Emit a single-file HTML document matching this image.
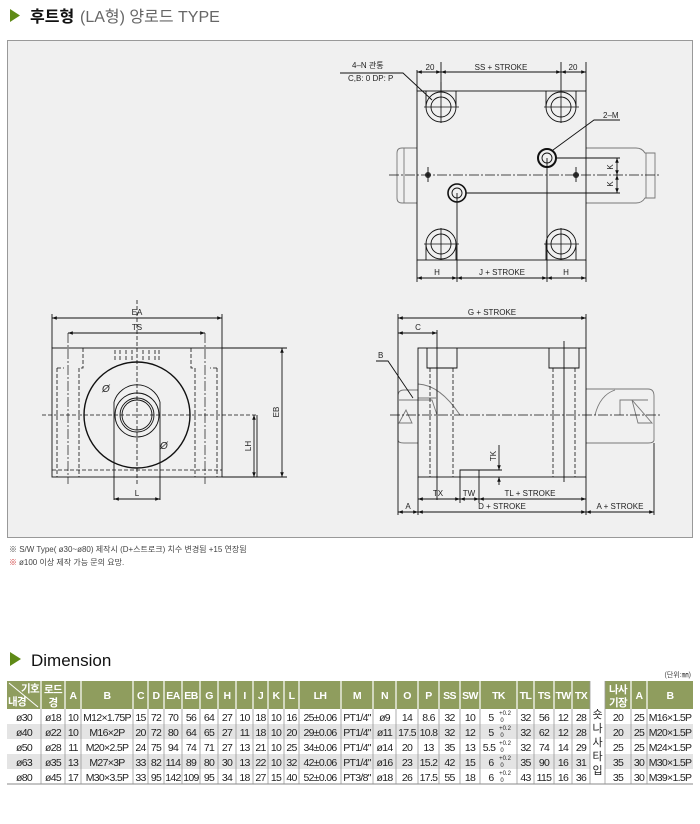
<!DOCTYPE html>
<html><head><meta charset="utf-8"><style>
html,body{margin:0;padding:0;background:#fff;}
svg{display:block;font-family:"Liberation Sans","Noto Sans CJK KR",sans-serif;}
.d{stroke:#111;stroke-width:0.9;fill:none;}
.dt{stroke:#111;stroke-width:0.8;fill:none;stroke-dasharray:4 2;}
.cl{stroke:#111;stroke-width:0.7;fill:none;stroke-dasharray:10 2 2 2;}
.g{stroke:#777;stroke-width:0.9;fill:none;}
.lb{font-size:8px;fill:#222;}
.th{font-size:10.5px;fill:#fff;font-weight:bold;text-anchor:middle;letter-spacing:-0.6px;}
.tb text{font-size:10.5px;fill:#222;text-anchor:middle;letter-spacing:-0.7px;}
</style></head><body>
<svg width="700" height="824" viewBox="0 0 700 824" xmlns="http://www.w3.org/2000/svg">
<defs>
<marker id="a" viewBox="0 0 8 6" refX="8" refY="3" markerWidth="6" markerHeight="4" orient="auto-start-reverse"><path d="M0,0L8,3L0,6z" fill="#111"/></marker>
</defs>
<!-- title -->
<path d="M10,9L20,15.5L10,22z" fill="#5f8a17"/>
<text x="30" y="22" font-size="16" font-weight="bold" fill="#111">후트형</text>
<text x="80" y="22" font-size="16" fill="#666">(LA형) 양로드 TYPE</text>

<!-- box -->
<rect x="7.5" y="40.5" width="685" height="497" fill="#f0f0f0" stroke="#999" stroke-width="1"/>

<!-- ===== TOP VIEW ===== -->
<g>
<path class="g" d="M417,148H402Q397,148 397,153V198Q397,203 402,203H417"/>
<line class="g" x1="404" y1="148" x2="404" y2="203"/>
<path class="g" d="M586,148H636Q642,148 645,153H655V198H645Q642,203 636,203H586"/>
<line class="g" x1="646" y1="153" x2="646" y2="198"/>
<rect class="d" x="417" y="91" width="169" height="169"/>
<g class="d">
<circle cx="441" cy="107" r="15"/><circle cx="441" cy="107" r="10"/>
<path d="M426,91V107M456,91V107"/>
<circle cx="561" cy="107" r="15"/><circle cx="561" cy="107" r="10"/>
<path d="M546,91V107M576,91V107"/>
<circle cx="441" cy="244" r="15"/><circle cx="441" cy="244" r="10"/>
<path d="M426,244V260M456,244V260"/>
<circle cx="561" cy="244" r="15"/><circle cx="561" cy="244" r="10"/>
<path d="M546,244V260M576,244V260"/>
</g>
<g stroke="#111" stroke-width="0.8">
<path d="M424,107H459M441,82V123M544,107H579M561,92V123M424,244H459M441,228V260M544,244H579M561,228V260"/>
</g>
<circle cx="547" cy="158" r="9" fill="none" stroke="#111" stroke-width="2"/>
<circle cx="547" cy="158" r="5" class="d"/>
<circle cx="457" cy="193" r="9" fill="none" stroke="#111" stroke-width="1.6"/>
<circle cx="457" cy="193" r="5" class="d"/>
<circle cx="428" cy="175" r="3" fill="#333"/><circle cx="576" cy="175" r="3" fill="#333"/>
<line class="cl" x1="389" y1="175" x2="660" y2="175"/>
<line class="d" x1="428" y1="167" x2="428" y2="182"/><line class="d" x1="576" y1="167" x2="576" y2="182"/>
<path class="d" d="M417,70V91M441,62V91M561,62V91M586,62V91"/>
<line class="d" x1="417" y1="72" x2="441" y2="72" marker-start="url(#a)" marker-end="url(#a)"/>
<line class="d" x1="441" y1="72" x2="561" y2="72" marker-start="url(#a)" marker-end="url(#a)"/>
<line class="d" x1="561" y1="72" x2="586" y2="72" marker-start="url(#a)" marker-end="url(#a)"/>
<text class="lb" x="430" y="70" text-anchor="middle">20</text>
<text class="lb" x="501" y="70" text-anchor="middle">SS + STROKE</text>
<text class="lb" x="573" y="70" text-anchor="middle">20</text>
<path class="d" d="M417,260V282M457,193V282M547,158V282M586,260V282"/>
<line class="d" x1="417" y1="278" x2="457" y2="278" marker-start="url(#a)" marker-end="url(#a)"/>
<line class="d" x1="457" y1="278" x2="547" y2="278" marker-start="url(#a)" marker-end="url(#a)"/>
<line class="d" x1="547" y1="278" x2="586" y2="278" marker-start="url(#a)" marker-end="url(#a)"/>
<text class="lb" x="437" y="275" text-anchor="middle">H</text>
<text class="lb" x="502" y="275" text-anchor="middle">J + STROKE</text>
<text class="lb" x="566" y="275" text-anchor="middle">H</text>
<path class="d" d="M556,158H620M466,193H620"/>
<line class="d" x1="617" y1="158" x2="617" y2="175" marker-start="url(#a)" marker-end="url(#a)"/>
<line class="d" x1="617" y1="175" x2="617" y2="193" marker-start="url(#a)" marker-end="url(#a)"/>
<text class="lb" transform="translate(613,167) rotate(-90)" text-anchor="middle">K</text>
<text class="lb" transform="translate(613,184) rotate(-90)" text-anchor="middle">K</text>
<text class="lb" x="352" y="68">4–N 관통</text>
<text class="lb" x="348" y="81">C,B: 0 DP: P</text>
<path class="d" d="M340,73H403L432,100"/>
<text class="lb" x="603" y="118">2–M</text>
<path class="d" d="M620,120H594L553,150"/>
</g>

<!-- ===== FRONT VIEW ===== -->
<g>
<rect class="d" x="52" y="348" width="170" height="129"/>
<path class="dt" d="M83,348V368H79M191,348V368H195"/>
<path class="dt" d="M57,368H64M57,368V477M79,368V477M195,368V477M217,368H210M217,368V477"/>
<line class="dt" x1="52" y1="470" x2="222" y2="470"/>
<line class="cl" x1="68" y1="333" x2="68" y2="484"/>
<line class="cl" x1="205" y1="333" x2="205" y2="484"/>
<path class="dt" d="M115,350V362M120,350V362M126,350V362M132,350V362M143,350V362M149,350V362M155,350V362M159,350V362"/>
<circle cx="137" cy="415" r="53" fill="none" stroke="#111" stroke-width="1.4"/>
<path class="d" d="M114,402A24,24 0 0 1 160,402"/>
<path class="d" d="M114,402V500M160,402V500"/>
<circle cx="137" cy="415" r="22" class="d"/>
<circle cx="137" cy="415" r="17" class="d"/><circle cx="137" cy="415" r="15" class="d"/>
<line class="dt" x1="42" y1="415" x2="257" y2="415"/>
<line class="dt" x1="137" y1="300" x2="137" y2="485"/>
<text x="102" y="392" font-size="10" fill="#222" font-style="italic">Ø</text>
<text x="160" y="449" font-size="10" fill="#222" font-style="italic">Ø</text>
<path class="d" d="M52,314V348M222,314V348M222,348H287M222,477H287M257,415V477"/>
<line class="d" x1="52" y1="318" x2="222" y2="318" marker-start="url(#a)" marker-end="url(#a)"/>
<line class="d" x1="68" y1="333" x2="205" y2="333" marker-start="url(#a)" marker-end="url(#a)"/>
<line class="d" x1="282" y1="348" x2="282" y2="477" marker-start="url(#a)" marker-end="url(#a)"/>
<line class="d" x1="254" y1="415" x2="254" y2="477" marker-start="url(#a)" marker-end="url(#a)"/>
<line class="d" x1="114" y1="499" x2="160" y2="499" marker-start="url(#a)" marker-end="url(#a)"/>
<text class="lb" x="137" y="315" text-anchor="middle">EA</text>
<text class="lb" x="137" y="330" text-anchor="middle">TS</text>
<text class="lb" x="137" y="496" text-anchor="middle">L</text>
<text class="lb" transform="translate(279,412) rotate(-90)" text-anchor="middle">EB</text>
<text class="lb" transform="translate(251,446) rotate(-90)" text-anchor="middle">LH</text>
</g>

<!-- ===== SIDE VIEW ===== -->
<g>
<path class="g" d="M418,390H404Q398,390 398,396V440Q398,443 404,443H418"/>
<path class="g" d="M399,400H432L437,415M418,398H436M406,410L399,423L412,423z"/>
<path class="g" d="M586,389H648Q654,389 654,396V440Q654,443 648,443H586"/>
<path class="g" d="M648,400H620V415M632,400L638,423L652,423z"/>
<path class="g" d="M418,384Q440,385 460,415M595,415Q600,395 615,390"/>
<rect class="d" x="418" y="348" width="168" height="129"/>
<path class="d" d="M427,348V368H457V348M549,348V368H579V348"/>
<path class="dt" d="M430,368V477M453,368V477M553,368V477M575,368V477"/>
<path class="d" d="M437,330V500M564,341V482"/>
<path class="d" d="M460,477V470H479V477"/>
<line class="cl" x1="390" y1="415" x2="662" y2="415"/>
<path class="d" d="M398,314V515M586,314V348M654,443V515M418,477V515M460,477V503M479,477V503M586,477V515M479,470H502"/>
<line class="d" x1="398" y1="318" x2="586" y2="318" marker-start="url(#a)" marker-end="url(#a)"/>
<line class="d" x1="398" y1="333" x2="437" y2="333" marker-start="url(#a)" marker-end="url(#a)"/>
<line class="d" x1="418" y1="499" x2="460" y2="499" marker-start="url(#a)" marker-end="url(#a)"/>
<line class="d" x1="460" y1="499" x2="479" y2="499" marker-start="url(#a)" marker-end="url(#a)"/>
<line class="d" x1="479" y1="499" x2="586" y2="499" marker-start="url(#a)" marker-end="url(#a)"/>
<line class="d" x1="398" y1="512" x2="418" y2="512" marker-start="url(#a)" marker-end="url(#a)"/>
<line class="d" x1="418" y1="512" x2="586" y2="512" marker-start="url(#a)" marker-end="url(#a)"/>
<line class="d" x1="586" y1="512" x2="654" y2="512" marker-start="url(#a)" marker-end="url(#a)"/>
<line class="d" x1="499" y1="445" x2="499" y2="470" marker-end="url(#a)"/>
<line class="d" x1="499" y1="485" x2="499" y2="477" marker-end="url(#a)"/>
<text class="lb" x="492" y="315" text-anchor="middle">G + STROKE</text>
<text class="lb" x="418" y="330" text-anchor="middle">C</text>
<text class="lb" x="438" y="496" text-anchor="middle">TX</text>
<text class="lb" x="469" y="496" text-anchor="middle">TW</text>
<text class="lb" x="530" y="496" text-anchor="middle">TL + STROKE</text>
<text class="lb" x="408" y="509" text-anchor="middle">A</text>
<text class="lb" x="502" y="509" text-anchor="middle">D + STROKE</text>
<text class="lb" x="620" y="509" text-anchor="middle">A + STROKE</text>
<text class="lb" transform="translate(496,456) rotate(-90)" text-anchor="middle">TK</text>
<text class="lb" x="378" y="358">B</text>
<path class="d" d="M376,361H388L413,398"/>
</g>

<!-- notes -->
<text x="9" y="552" font-size="8" fill="#444">※ S/W Type( ø30~ø80) 제작시 (D+스트로크) 치수 변경됨 +15 연장됨</text>
<text x="9" y="565" font-size="8" fill="#c33">※</text>
<text x="19" y="565" font-size="8" fill="#444">ø100 이상 제작 가능 문의 요망.</text>

<!-- Dimension heading -->
<path d="M10,652L21,659L10,666z" fill="#5f8a17"/>
<text x="31" y="666" font-size="17" fill="#111">Dimension</text>
<text x="691" y="677" font-size="7" fill="#444" text-anchor="end">(단위:㎜)</text>

<!-- table -->
<rect x="7" y="681" width="583" height="28" fill="#8f9d5e"/>
<rect x="605" y="681" width="88" height="28" fill="#8f9d5e"/>
<rect x="7" y="724" width="583" height="15" fill="#e4e4e4"/>
<rect x="605" y="724" width="88" height="15" fill="#e4e4e4"/>
<rect x="7" y="754" width="583" height="15" fill="#e4e4e4"/>
<rect x="605" y="754" width="88" height="15" fill="#e4e4e4"/>
<line x1="7" y1="784" x2="693" y2="784" stroke="#888" stroke-width="1"/>
<g stroke="#fff" stroke-width="1.2">
<path d="M41,681V709M65,681V709M81,681V709M133,681V709M148,681V709M164,681V709M182,681V709M200,681V709M218,681V709M236,681V709M253,681V709M268,681V709M284,681V709M299,681V709M341,681V709M373,681V709M396,681V709M418,681V709M439,681V709M460,681V709M480,681V709M517,681V709M534,681V709M554,681V709M572,681V709M631,681V709M647,681V709"/>
<path d="M9,683L38,707" stroke-width="1"/>
</g>
<g stroke="#999" stroke-width="0.8">
<path d="M41,709V784M65,709V784M81,709V784M133,709V784M148,709V784M164,709V784M182,709V784M200,709V784M218,709V784M236,709V784M253,709V784M268,709V784M284,709V784M299,709V784M341,709V784M373,709V784M396,709V784M418,709V784M439,709V784M460,709V784M480,709V784M517,709V784M534,709V784M554,709V784M572,709V784M590,681V784M605,681V784M631,709V784M647,709V784"/>
</g>
<text class="th" x="30" y="692" font-size="10">기호</text>
<text class="th" x="17" y="705" font-size="10">내경</text>
<text class="th" x="53" y="693">로드</text><text class="th" x="53" y="706">경</text>
<g>
<text class="th" x="73" y="699">A</text><text class="th" x="107" y="699">B</text>
<text class="th" x="140.5" y="699">C</text><text class="th" x="156" y="699">D</text>
<text class="th" x="173" y="699">EA</text><text class="th" x="191" y="699">EB</text>
<text class="th" x="209" y="699">G</text><text class="th" x="227" y="699">H</text>
<text class="th" x="244.5" y="699">I</text><text class="th" x="260.5" y="699">J</text>
<text class="th" x="276" y="699">K</text><text class="th" x="291.5" y="699">L</text>
<text class="th" x="320" y="699">LH</text><text class="th" x="357" y="699">M</text>
<text class="th" x="384.5" y="699">N</text><text class="th" x="407" y="699">O</text>
<text class="th" x="428.5" y="699">P</text><text class="th" x="449.5" y="699">SS</text>
<text class="th" x="470" y="699">SW</text><text class="th" x="498.5" y="699">TK</text>
<text class="th" x="525.5" y="699">TL</text><text class="th" x="544" y="699">TS</text>
<text class="th" x="563" y="699">TW</text><text class="th" x="581" y="699">TX</text>
<text class="th" x="618" y="693">나사</text><text class="th" x="618" y="706">기장</text>
<text class="th" x="639" y="699">A</text><text class="th" x="670" y="699">B</text>
</g>
<g font-size="11" fill="#222" text-anchor="middle">
<text x="597.5" y="718">숏</text><text x="597.5" y="732">나</text><text x="597.5" y="746">사</text><text x="597.5" y="760">타</text><text x="597.5" y="774">입</text>
</g>
<g class="tb">
<text x="24" y="721">ø30</text><text x="53" y="721">ø18</text><text x="73" y="721">10</text><text x="107" y="721">M12×1.75P</text><text x="140.5" y="721">15</text><text x="156" y="721">72</text><text x="173" y="721">70</text><text x="191" y="721">56</text><text x="209" y="721">64</text><text x="227" y="721">27</text><text x="244.5" y="721">10</text><text x="260.5" y="721">18</text><text x="276" y="721">10</text><text x="291.5" y="721">16</text><text x="320" y="721">25±0.06</text><text x="357" y="721">PT1/4"</text><text x="384.5" y="721">ø9</text><text x="407" y="721">14</text><text x="428.5" y="721">8.6</text><text x="449.5" y="721">32</text><text x="470" y="721">10</text><text x="491" y="721">5</text><text x="525.5" y="721">32</text><text x="544" y="721">56</text><text x="563" y="721">12</text><text x="581" y="721">28</text><text x="618" y="721">20</text><text x="639" y="721">25</text><text x="670" y="721">M16×1.5P</text>
<text x="24" y="736">ø40</text><text x="53" y="736">ø22</text><text x="73" y="736">10</text><text x="107" y="736">M16×2P</text><text x="140.5" y="736">20</text><text x="156" y="736">72</text><text x="173" y="736">80</text><text x="191" y="736">64</text><text x="209" y="736">65</text><text x="227" y="736">27</text><text x="244.5" y="736">11</text><text x="260.5" y="736">18</text><text x="276" y="736">10</text><text x="291.5" y="736">20</text><text x="320" y="736">29±0.06</text><text x="357" y="736">PT1/4"</text><text x="384.5" y="736">ø11</text><text x="407" y="736">17.5</text><text x="428.5" y="736">10.8</text><text x="449.5" y="736">32</text><text x="470" y="736">12</text><text x="491" y="736">5</text><text x="525.5" y="736">32</text><text x="544" y="736">62</text><text x="563" y="736">12</text><text x="581" y="736">28</text><text x="618" y="736">20</text><text x="639" y="736">25</text><text x="670" y="736">M20×1.5P</text>
<text x="24" y="751">ø50</text><text x="53" y="751">ø28</text><text x="73" y="751">11</text><text x="107" y="751">M20×2.5P</text><text x="140.5" y="751">24</text><text x="156" y="751">75</text><text x="173" y="751">94</text><text x="191" y="751">74</text><text x="209" y="751">71</text><text x="227" y="751">27</text><text x="244.5" y="751">13</text><text x="260.5" y="751">21</text><text x="276" y="751">10</text><text x="291.5" y="751">25</text><text x="320" y="751">34±0.06</text><text x="357" y="751">PT1/4"</text><text x="384.5" y="751">ø14</text><text x="407" y="751">20</text><text x="428.5" y="751">13</text><text x="449.5" y="751">35</text><text x="470" y="751">13</text><text x="489" y="751">5.5</text><text x="525.5" y="751">32</text><text x="544" y="751">74</text><text x="563" y="751">14</text><text x="581" y="751">29</text><text x="618" y="751">25</text><text x="639" y="751">25</text><text x="670" y="751">M24×1.5P</text>
<text x="24" y="766">ø63</text><text x="53" y="766">ø35</text><text x="73" y="766">13</text><text x="107" y="766">M27×3P</text><text x="140.5" y="766">33</text><text x="156" y="766">82</text><text x="173" y="766">114</text><text x="191" y="766">89</text><text x="209" y="766">80</text><text x="227" y="766">30</text><text x="244.5" y="766">13</text><text x="260.5" y="766">22</text><text x="276" y="766">10</text><text x="291.5" y="766">32</text><text x="320" y="766">42±0.06</text><text x="357" y="766">PT1/4"</text><text x="384.5" y="766">ø16</text><text x="407" y="766">23</text><text x="428.5" y="766">15.2</text><text x="449.5" y="766">42</text><text x="470" y="766">15</text><text x="491" y="766">6</text><text x="525.5" y="766">35</text><text x="544" y="766">90</text><text x="563" y="766">16</text><text x="581" y="766">31</text><text x="618" y="766">35</text><text x="639" y="766">30</text><text x="670" y="766">M30×1.5P</text>
<text x="24" y="781">ø80</text><text x="53" y="781">ø45</text><text x="73" y="781">17</text><text x="107" y="781">M30×3.5P</text><text x="140.5" y="781">33</text><text x="156" y="781">95</text><text x="173" y="781">142</text><text x="191" y="781">109</text><text x="209" y="781">95</text><text x="227" y="781">34</text><text x="244.5" y="781">18</text><text x="260.5" y="781">27</text><text x="276" y="781">15</text><text x="291.5" y="781">40</text><text x="320" y="781">52±0.06</text><text x="357" y="781">PT3/8"</text><text x="384.5" y="781">ø18</text><text x="407" y="781">26</text><text x="428.5" y="781">17.5</text><text x="449.5" y="781">55</text><text x="470" y="781">18</text><text x="491" y="781">6</text><text x="525.5" y="781">43</text><text x="544" y="781">115</text><text x="563" y="781">16</text><text x="581" y="781">36</text><text x="618" y="781">35</text><text x="639" y="781">30</text><text x="670" y="781">M39×1.5P</text>
</g>
<g font-size="6" fill="#222" text-anchor="middle">
<text x="505" y="715">+0.2</text><text x="502" y="722">0</text>
<text x="505" y="730">+0.2</text><text x="502" y="737">0</text>
<text x="505" y="745">+0.2</text><text x="502" y="752">0</text>
<text x="505" y="760">+0.2</text><text x="502" y="767">0</text>
<text x="505" y="775">+0.2</text><text x="502" y="782">0</text>
</g>
</svg>
</body></html>
